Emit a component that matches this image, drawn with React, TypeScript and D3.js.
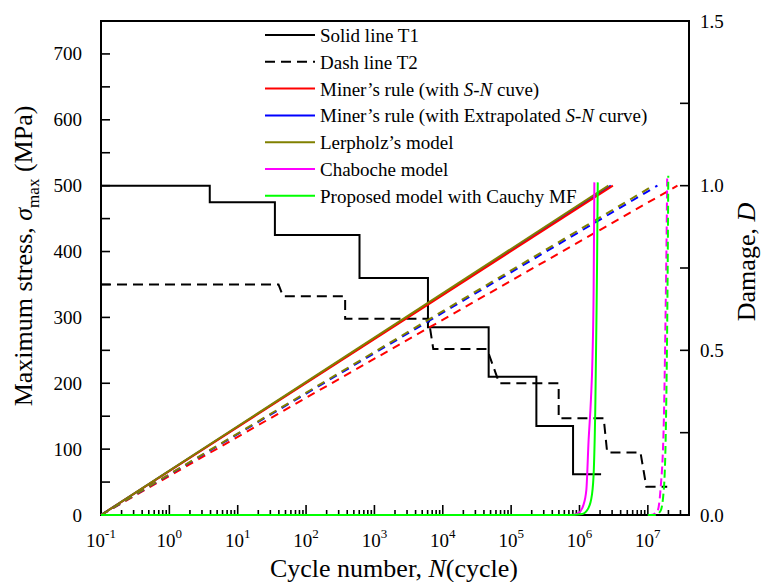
import React from "react";
import * as d3 from "d3";

// ---- data ----
const xExponents = [-1, 0, 1, 2, 3, 4, 5, 6, 7];
const stressTicks = [0, 100, 200, 300, 400, 500, 600, 700];
const damageTicks = [0.0, 0.5, 1.0, 1.5];

// Solid line T1: stress blocks (cycle where block starts, stress level)
const t1Cycles = [0.1, 3.9, 35, 605, 6070, 46900, 234000, 805000, 2070000];
const t1Stress = [500, 475, 425, 360, 285, 210, 135, 62, 62];

// Dash line T2
const t2Cycles = [0.1, 39.5, 46, 373, 373, 6200, 7260, 44400, 67100, 496000, 496000, 2260000, 2540000, 7800000, 9500000, 19200000];
const t2Stress = [350, 350, 332, 332, 298, 298, 252, 252, 200, 200, 147, 147, 95, 95, 43, 43];

// damage curves, solid = T1, dashed = T2
const minerT1N = [0.1, 3.08e6];
const minerT1D = [0, 1.0];
const minerExtT1N = [0.1, 2.88e6];
const minerExtT1D = [0, 1.0];
const lerpT1N = [0.1, 2.65e6];
const lerpT1D = [0, 1.0];
const chabT1N = [0.1, 7.36e5, 9.64e5, 1.14e6, 1.26e6, 1.36e6, 1.47e6, 1.55e6, 1.61e6, 1.65e6];
const chabT1D = [0, 0, 0.006, 0.03, 0.076, 0.228, 0.35, 0.48, 0.683, 1.01];
const cauchyT1N = [0.1, 7.36e5, 1.1e6, 1.35e6, 1.52e6, 1.62e6, 1.71e6, 1.77e6, 1.81e6, 1.85e6];
const cauchyT1D = [0, 0, 0.003, 0.021, 0.061, 0.137, 0.349, 0.592, 0.774, 1.01];

const minerT2N = [0.1, 2.71e7];
const minerT2D = [0, 1.0];
const minerExtT2N = [0.1, 1.38e7];
const minerExtT2D = [0, 1.0];
const lerpT2N = [0.1, 1.2e7];
const lerpT2D = [0, 1.0];
const chabT2N = [1.0e7, 1.09e7, 1.37e7, 1.53e7, 1.71e7, 1.81e7, 1.87e7, 1.92e7];
const chabT2D = [0, 0, 0.01, 0.076, 0.279, 0.583, 0.805, 1.03];
const cauchyT2N = [1.0e7, 1.29e7, 1.53e7, 1.71e7, 1.84e7, 1.92e7, 1.96e7, 1.99e7];
const cauchyT2D = [0, 0, 0.012, 0.076, 0.279, 0.583, 0.805, 1.03];

const legendLabels = ["Solid line T1", "Dash line T2", "Miner’s rule (with S-N cuve)", "Miner’s rule (with Extrapolated S-N curve)", "Lerpholz’s model", "Chaboche model", "Proposed model with Cauchy MF"];

const RED = "#ff0000", BLUE = "#0000ff", OLIVE = "#808000", MAGENTA = "#ff00ff", GREEN = "#00ff00";
const FONT = "'Liberation Serif', 'Times New Roman', serif";

const left = 101, right = 689, top = 21, bottom = 515;

const x = d3.scaleLog().domain([0.1, 4e7]).range([left, right]);
const yS = d3.scaleLinear().domain([0, 750]).range([bottom, top]);
const yD = d3.scaleLinear().domain([0, 1.5]).range([bottom, top]);

const zip = (a: number[], b: number[]) => a.map((v, i) => [v, b[i]] as [number, number]);

const stressLine = d3.line<[number, number]>().x(d => x(d[0])).y(d => yS(d[1]));
const stepLine = d3.line<[number, number]>().x(d => x(d[0])).y(d => yS(d[1])).curve(d3.curveStepAfter);
const damageLine = d3.line<[number, number]>().x(d => x(d[0])).y(d => yD(d[1]));
const damageCurve = d3.line<[number, number]>().x(d => x(d[0])).y(d => yD(d[1])).curve(d3.curveMonotoneX);

export default function App() {
  // minor ticks on the log axis
  const minorX: number[] = [];
  xExponents.forEach(e => {
    for (let k = 2; k <= 9; k++) {
      const v = k * Math.pow(10, e);
      if (v < 4e7) minorX.push(v);
    }
  });
  const minorS = d3.range(50, 750, 100);
  const minorD = [0.25, 0.75, 1.25];

  const dmg = [
    { n: minerExtT1N, d: minerExtT1D, c: BLUE, dash: null, curve: false },
    { n: minerT1N, d: minerT1D, c: RED, dash: null, curve: false },
    { n: lerpT1N, d: lerpT1D, c: OLIVE, dash: null, curve: false },
    { n: minerT2N, d: minerT2D, c: RED, dash: "8,6", curve: false },
    { n: minerExtT2N, d: minerExtT2D, c: BLUE, dash: "8,6", curve: false },
    { n: lerpT2N, d: lerpT2D, c: OLIVE, dash: "8,6", curve: false },
    { n: chabT1N, d: chabT1D, c: MAGENTA, dash: null, curve: true },
    { n: cauchyT1N, d: cauchyT1D, c: GREEN, dash: null, curve: true },
    { n: chabT2N, d: chabT2D, c: MAGENTA, dash: "8,4", curve: true },
    { n: cauchyT2N, d: cauchyT2D, c: GREEN, dash: "8,4", curve: true },
  ];

  const legendStyles = [
    { c: "#000", dash: null },
    { c: "#000", dash: "10,6" },
    { c: RED, dash: null },
    { c: BLUE, dash: null },
    { c: OLIVE, dash: null },
    { c: MAGENTA, dash: null },
    { c: GREEN, dash: null },
  ];

  const renderLabel = (s: string) => {
    if (!s.includes("S-N")) return s;
    const [a, b] = s.split("S-N");
    return (
      <>
        {a}
        <tspan fontStyle="italic">S-N</tspan>
        {b}
      </>
    );
  };

  return (
    <svg width={762} height={582} style={{ position: "absolute", left: 0, top: 0, background: "#fff" }} fontFamily={FONT}>
      {/* frame */}
      <rect x={left} y={top} width={right - left} height={bottom - top} fill="none" stroke="#000" strokeWidth={2} />

      {/* bottom axis ticks */}
      {xExponents.map(e => (
        <line key={"xt" + e} x1={x(Math.pow(10, e))} x2={x(Math.pow(10, e))} y1={bottom} y2={bottom - 10} stroke="#000" strokeWidth={1.6} />
      ))}
      {minorX.map((v, i) => (
        <line key={"xm" + i} x1={x(v)} x2={x(v)} y1={bottom} y2={bottom - 5} stroke="#000" strokeWidth={1.6} />
      ))}
      {xExponents.map(e => (
        <text key={"xl" + e} x={x(Math.pow(10, e))} y={547} fontSize={19} textAnchor="middle">
          10<tspan dy={-9} fontSize={13}>{e}</tspan>
        </text>
      ))}

      {/* left axis */}
      {stressTicks.map(v => (
        <g key={"ys" + v}>
          <line x1={left} x2={left + 9} y1={yS(v)} y2={yS(v)} stroke="#000" strokeWidth={1.6} />
          <text x={82} y={yS(v) + 6.5} fontSize={19} textAnchor="end">{v}</text>
        </g>
      ))}
      {minorS.map(v => (
        <line key={"ysm" + v} x1={left} x2={left + 9} y1={yS(v)} y2={yS(v)} stroke="#000" strokeWidth={1.6} />
      ))}

      {/* right axis */}
      {damageTicks.map(v => (
        <g key={"yd" + v}>
          <line x1={right} x2={right - 9} y1={yD(v)} y2={yD(v)} stroke="#000" strokeWidth={1.6} />
          <text x={700} y={yD(v) + 6.5} fontSize={19}>{v.toFixed(1)}</text>
        </g>
      ))}
      {minorD.map(v => (
        <line key={"ydm" + v} x1={right} x2={right - 9} y1={yD(v)} y2={yD(v)} stroke="#000" strokeWidth={1.6} />
      ))}

      {/* axis titles */}
      <text x={394} y={577} fontSize={26} textAnchor="middle">
        Cycle number, <tspan fontStyle="italic">N</tspan>(cycle)
      </text>
      <text transform="translate(32,256) rotate(-90)" fontSize={26} textAnchor="middle">
        Maximum stress, <tspan fontStyle="italic">σ</tspan>
        <tspan fontSize={17} dy={7}>max</tspan>
        <tspan dy={-7}> (MPa)</tspan>
      </text>
      <text transform="translate(755,262) rotate(-90)" fontSize={26} textAnchor="middle">
        Damage, <tspan fontStyle="italic">D</tspan>
      </text>

      {/* stress blocks */}
      <path d={stepLine(zip(t1Cycles, t1Stress)) || ""} fill="none" stroke="#000" strokeWidth={2} />
      <path d={stressLine(zip(t2Cycles, t2Stress)) || ""} fill="none" stroke="#000" strokeWidth={2} strokeDasharray="10,6" />

      {/* damage */}
      {dmg.map((s, i) => (
        <path
          key={"d" + i}
          d={(s.curve ? damageCurve : damageLine)(zip(s.n, s.d)) || ""}
          fill="none"
          stroke={s.c}
          strokeWidth={2}
          strokeDasharray={s.dash || undefined}
        />
      ))}

      {/* legend */}
      {legendLabels.map((lab, i) => {
        const ly = 35 + i * 26.8;
        const st = legendStyles[i];
        return (
          <g key={"lg" + i}>
            <line x1={265} x2={315} y1={ly} y2={ly} stroke={st.c} strokeWidth={2} strokeDasharray={st.dash || undefined} />
            <text x={320} y={ly + 7} fontSize={19}>{renderLabel(lab)}</text>
          </g>
        );
      })}
    </svg>
  );
}
